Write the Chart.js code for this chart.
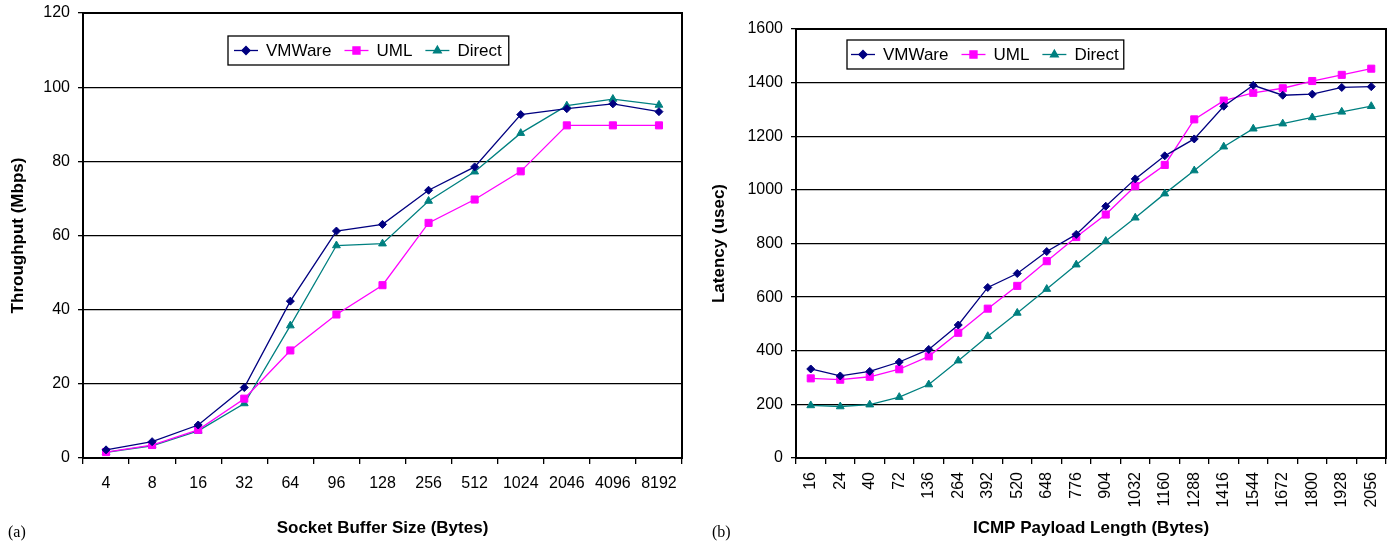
<!DOCTYPE html>
<html>
<head>
<meta charset="utf-8">
<script src="https://cdn.jsdelivr.net/npm/chart.js@4.4.1/dist/chart.umd.min.js"></script>
<style>
  html, body { margin: 0; padding: 0; background: #fff; }
  body { width: 1396px; height: 545px; position: relative; overflow: hidden; }
  canvas { position: absolute; top: 0; }
  #chartA { left: 0; }
  #chartB { left: 700px; }
  .tag { position: absolute; top: 523px; font: 16px "Liberation Serif", "Times New Roman", serif; line-height: 18px; }
</style>
</head>
<body>
<canvas id="chartA" width="690" height="545"></canvas>
<canvas id="chartB" width="696" height="545"></canvas>
<span class="tag" style="left:8px">(a)</span>
<span class="tag" style="left:712px">(b)</span>
<script>
/* (a) throughput vs socket buffer size */
const sockSizes = ["4", "8", "16", "32", "64", "96", "128", "256", "512", "1024", "2046", "4096", "8192"];
const thrVMWare = [2.2, 4.4, 8.9, 19.0, 42.3, 61.2, 63.0, 72.2, 78.5, 92.6, 94.2, 95.5, 93.4];
const thrUML    = [1.6, 3.5, 7.6, 16.0, 29.0, 38.7, 46.6, 63.4, 69.7, 77.3, 89.7, 89.7, 89.7];
const thrDirect = [1.5, 3.3, 7.3, 14.7, 35.7, 57.3, 57.8, 69.3, 77.2, 87.6, 95.0, 96.8, 95.2];

/* (b) latency vs ICMP payload length */
const icmpSizes = ["16", "24", "40", "72", "136", "264", "392", "520", "648", "776", "904", "1032", "1160", "1288", "1416", "1544", "1672", "1800", "1928", "2056"];
const latVMWare = [332, 306, 323, 358, 405, 496, 636, 688, 770, 834, 939, 1041, 1127, 1190, 1312, 1390, 1353, 1357, 1382, 1385];
const latUML    = [297, 292, 303, 331, 379, 467, 557, 642, 734, 824, 908, 1014, 1093, 1263, 1333, 1362, 1379, 1406, 1429, 1452];
const latDirect = [196, 192, 199, 227, 274, 363, 454, 541, 630, 721, 809, 896, 986, 1072, 1161, 1228, 1247, 1270, 1291, 1312];

const seriesNames = ["VMWare", "UML", "Direct"];

const FONT = "'Liberation Sans', Arial, Helvetica, sans-serif";

const styles = [
  { color: "#000080", pointStyle: "rectRot", radius: 4 },
  { color: "#FF00FF", pointStyle: "rect", radius: 5 },
  { color: "#008080", pointStyle: "triangle", radius: 4.5 }
];

function makeDatasets(arrays) {
  return arrays.map((data, i) => ({
    label: seriesNames[i],
    data,
    borderColor: styles[i].color,
    backgroundColor: styles[i].color,
    borderWidth: 1.3,
    pointStyle: styles[i].pointStyle,
    pointRadius: styles[i].radius,
    pointBorderWidth: 1,
    tension: 0,
    fill: false
  }));
}

// box around the plot area
const frame = {
  id: "frame",
  afterDatasetsDraw(chart) {
    const { ctx, chartArea: a } = chart;
    ctx.save();
    ctx.strokeStyle = "#000";
    ctx.lineWidth = 2;
    ctx.strokeRect(a.left, a.top, a.right - a.left, a.bottom - a.top);
    ctx.restore();
  }
};

// legend box inside the plot: line sample + marker + label
const boxLegend = {
  id: "boxLegend",
  afterDatasetsDraw(chart, args, opts) {
    const { ctx, chartArea: a } = chart;
    const x0 = a.left + opts.x, y0 = a.top + opts.y, h = opts.h;
    ctx.save();
    ctx.font = "17px " + FONT;
    let w = opts.pad;
    const items = chart.data.datasets.map(ds => {
      const tw = ctx.measureText(ds.label).width;
      return { ds, tw };
    });
    items.forEach((it, i) => { w += 24 + 8 + it.tw + (i < items.length - 1 ? 13 : 0); });
    w += opts.pad + 1;
    ctx.fillStyle = "#fff";
    ctx.fillRect(x0, y0, w, h);
    ctx.strokeStyle = "#000";
    ctx.lineWidth = 1.3;
    ctx.strokeRect(x0, y0, w, h);
    let x = x0 + opts.pad;
    const cy = y0 + h / 2;
    items.forEach(({ ds, tw }) => {
      ctx.strokeStyle = ds.borderColor;
      ctx.lineWidth = 1.3;
      ctx.beginPath();
      ctx.moveTo(x, cy);
      ctx.lineTo(x + 24, cy);
      ctx.stroke();
      ctx.fillStyle = ds.backgroundColor;
      Chart.helpers.drawPoint(ctx, { pointStyle: ds.pointStyle, radius: ds.pointRadius, borderWidth: 1, rotation: 0 }, x + 12, cy);
      ctx.fill();
      ctx.fillStyle = "#000";
      ctx.textBaseline = "middle";
      ctx.textAlign = "left";
      ctx.fillText(ds.label, x + 32, cy + 1);
      x += 32 + tw + 13;
    });
    ctx.restore();
  }
};

function makeChart(id, cfg) {
  return new Chart(document.getElementById(id), {
    type: "line",
    data: { labels: cfg.labels, datasets: makeDatasets(cfg.series) },
    options: {
      responsive: false,
      animation: false,
      devicePixelRatio: 1,
      layout: { padding: { top: cfg.top, right: cfg.right, left: 0, bottom: 0 } },
      plugins: {
        legend: { display: false },
        tooltip: { enabled: false },
        boxLegend: cfg.legend
      },
      scales: {
        x: {
          offset: true,
          afterFit: s => { s.height = 87; s.paddingLeft = 0; s.paddingRight = 0; },
          grid: { offset: true, drawOnChartArea: false, drawTicks: true, tickLength: 6, color: "#000", lineWidth: 1.3 },
          border: { color: "#000", width: 2 },
          ticks: {
            autoSkip: false,
            color: "#000",
            font: { family: FONT, size: 16 },
            padding: cfg.xPad,
            minRotation: cfg.rot,
            maxRotation: cfg.rot
          },
          title: {
            display: true,
            text: cfg.xTitle,
            color: "#000",
            font: { family: FONT, size: 17, weight: "bold" },
            padding: { top: 0, bottom: 6.5 }
          }
        },
        y: {
          min: 0,
          max: cfg.yMax,
          afterFit: s => { s.width = cfg.yWidth; s.paddingTop = 0; s.paddingBottom = 0; },
          grid: { color: "#000", lineWidth: 1.3, tickLength: 5 },
          border: { color: "#000", width: 2 },
          ticks: {
            stepSize: cfg.yStep,
            color: "#000",
            font: { family: FONT, size: 16 },
            padding: 8,
            callback: v => String(v)
          },
          title: {
            display: true,
            text: cfg.yTitle,
            color: "#000",
            font: { family: FONT, size: 17, weight: "bold" },
            padding: { top: cfg.yTitlePad, bottom: 0 }
          }
        }
      }
    },
    plugins: [frame, boxLegend]
  });
}

makeChart("chartA", {
  labels: sockSizes,
  series: [thrVMWare, thrUML, thrDirect],
  top: 13, right: 8, yWidth: 83, yMax: 120, yStep: 20,
  xPad: 10, rot: 0,
  xTitle: "Socket Buffer Size (Bytes)",
  yTitle: "Throughput (Mbps)",
  yTitlePad: 8,
  legend: { x: 145, y: 23, h: 29, pad: 6 }
});

makeChart("chartB", {
  labels: icmpSizes,
  series: [latVMWare, latUML, latDirect],
  top: 29, right: 10, yWidth: 96, yMax: 1600, yStep: 200,
  xPad: 8, rot: 90,
  xTitle: "ICMP Payload Length (Bytes)",
  yTitle: "Latency (usec)",
  yTitlePad: 9.5,
  legend: { x: 51, y: 11, h: 29, pad: 4 }
});
</script>
</body>
</html>
